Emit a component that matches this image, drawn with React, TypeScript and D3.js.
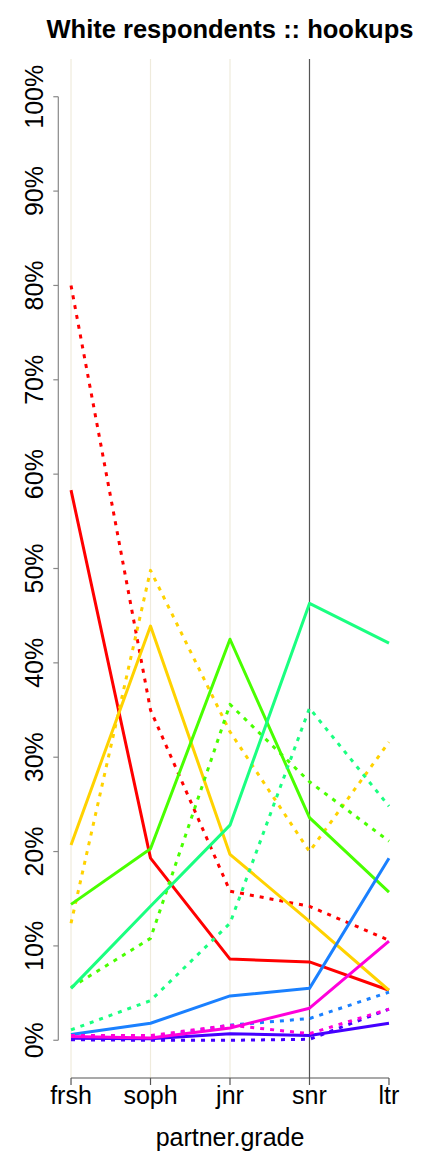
import React from "react";
import * as d3 from "d3";

const grades = ["frsh", "soph", "jnr", "snr", "ltr"];
const yTicks = [0, 10, 20, 30, 40, 50, 60, 70, 80, 90, 100];
const colors = ["#FF0000", "#FFD200", "#49FF00", "#1AFF80", "#1A80FF", "#4400FF", "#FF00DB"];

// solid series (one per colour)
const solidRed = [58.3, 19.3, 8.6, 8.3, 5.3];
const solidYellow = [20.7, 43.9, 19.7, 12.6, 5.3];
const solidGreen = [14.4, 20.3, 42.5, 23.6, 15.7];
const solidSpring = [5.5, 14.2, 22.8, 46.3, 42.1];
const solidBlue = [0.6, 1.8, 4.7, 5.5, 19.3];
const solidViolet = [0.2, 0.15, 0.7, 0.5, 1.8];
const solidMagenta = [0.4, 0.25, 1.3, 3.4, 10.5];

// dotted series (one per colour)
const dotRed = [80.0, 35.0, 15.8, 14.2, 10.6];
const dotYellow = [12.4, 49.8, 32.7, 20.0, 31.6];
const dotGreen = [5.6, 10.8, 35.6, 27.4, 21.1];
const dotSpring = [1.1, 4.2, 12.4, 35.2, 24.8];
const dotBlue = [0.3, 0.3, 1.6, 2.3, 5.1];
const dotViolet = [0.05, 0.0, 0.0, 0.1, 3.3];
const dotMagenta = [0.5, 0.5, 1.6, 0.7, 3.3];

const solidSeries = [solidRed, solidYellow, solidGreen, solidSpring, solidBlue, solidViolet, solidMagenta];
const dotSeries = [dotRed, dotYellow, dotGreen, dotSpring, dotBlue, dotViolet, dotMagenta];

export default function App() {
  const W = 432, H = 1152;
  const left = 58.3, right = 401.7, top = 59, bottom = 1078;
  const x = d3.scaleLinear().domain([0.84, 5.16]).range([left, right]);
  const y = d3.scaleLinear().domain([-4, 104]).range([bottom, top]);
  const line = d3.line<number>().x((_, i) => x(i + 1)).y((v) => y(v));
  const font = "'Liberation Sans', Arial, Helvetica, sans-serif";

  const groups: JSX.Element[] = [];
  colors.forEach((c, k) => {
    groups.push(
      <path key={"s" + k} d={line(solidSeries[k]) || ""} fill="none" stroke={c} strokeWidth={3} strokeLinejoin="round" />
    );
    groups.push(
      <path key={"d" + k} d={line(dotSeries[k]) || ""} fill="none" stroke={c} strokeWidth={3} strokeDasharray="4 6" strokeLinejoin="round" />
    );
  });

  return (
    <svg width={W} height={H} style={{ position: "absolute", left: 0, top: 0 }} fontFamily={font}>
      <rect width={W} height={H} fill="#fff" />
      <text x={230} y={38} textAnchor="middle" fontWeight="bold" fontSize={25.5}>
        White respondents :: hookups
      </text>
      {grades.map((g, i) =>
        i < 3 ? (
          <line key={g} x1={x(i + 1)} x2={x(i + 1)} y1={top} y2={bottom} stroke="#EFEBDC" strokeWidth={1.2} />
        ) : null
      )}
      <line x1={x(4)} x2={x(4)} y1={top} y2={bottom} stroke="#555" strokeWidth={1.2} />
      {groups}
      {/* y axis */}
      <line x1={left} x2={left} y1={y(0)} y2={y(100)} stroke="#888" strokeWidth={1.2} />
      {yTicks.map((t) => (
        <g key={t}>
          <line x1={left - 5} x2={left} y1={y(t)} y2={y(t)} stroke="#888" strokeWidth={1.2} />
          <text transform={`translate(43,${y(t)}) rotate(-90)`} textAnchor="middle" fontSize={25}>
            {t + "%"}
          </text>
        </g>
      ))}
      {/* x axis */}
      <line x1={x(1)} x2={x(5)} y1={bottom} y2={bottom} stroke="#555" strokeWidth={1.2} />
      {grades.map((g, i) => (
        <g key={g}>
          <line x1={x(i + 1)} x2={x(i + 1)} y1={bottom} y2={bottom + 7} stroke="#555" strokeWidth={1.2} />
          <text x={x(i + 1)} y={1104} textAnchor="middle" fontSize={25}>
            {g}
          </text>
        </g>
      ))}
      <text x={230} y={1146} textAnchor="middle" fontSize={25}>
        partner.grade
      </text>
    </svg>
  );
}
